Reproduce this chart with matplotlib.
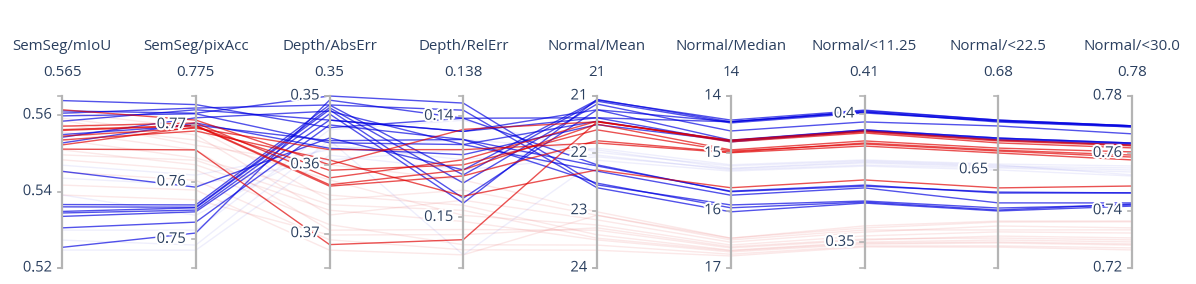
import matplotlib
matplotlib.use("Agg")
import matplotlib.pyplot as plt
import matplotlib.patheffects as pe
import numpy as np

# Axis definitions
dims = ["SemSeg/mIoU", "SemSeg/pixAcc", "Depth/AbsErr", "Depth/RelErr", "Normal/Mean",
        "Normal/Median", "Normal/<11.25", "Normal/<22.5", "Normal/<30.0"]
range_lo = [0.52, 0.745, 0.35, 0.138, 21, 14, 0.34, 0.61, 0.72]
range_hi = [0.565, 0.775, 0.375, 0.155, 24, 17, 0.407, 0.68, 0.78]
reversed_axis = [False, False, True, True, True, True, False, False, False]
top_labels = ["0.565", "0.775", "0.35", "0.138", "21", "14", "0.41", "0.68", "0.78"]
ticks = [
    [0.52, 0.54, 0.56],
    [0.75, 0.76, 0.77],
    [0.35, 0.36, 0.37],
    [0.14, 0.15],
    [21, 22, 23, 24],
    [14, 15, 16, 17],
    [0.35, 0.4],
    [0.65],
    [0.72, 0.74, 0.76, 0.78],
]
tick_labels = [
    ["0.52", "0.54", "0.56"],
    ["0.75", "0.76", "0.77"],
    ["0.35", "0.36", "0.37"],
    ["0.14", "0.15"],
    ["21", "22", "23", "24"],
    ["14", "15", "16", "17"],
    ["0.35", "0.4"],
    ["0.65"],
    ["0.72", "0.74", "0.76", "0.78"],
]

# Runs (16 blue selected, 8 red selected, 12 pink faded, 6 blue faded)
semseg_miou = [0.5638, 0.5611, 0.5605, 0.5584, 0.5549, 0.5542, 0.5527, 0.5453, 0.5366, 0.5360, 0.5348, 0.5344, 0.5335, 0.5305, 0.5254, 0.5598,
               0.5614, 0.5571, 0.5562, 0.5560, 0.5545, 0.5511, 0.5535, 0.5522,
               0.5608, 0.5592, 0.5574, 0.5556, 0.5535, 0.5509, 0.5483, 0.5451, 0.5417, 0.5391, 0.5587, 0.5496,
               0.5469, 0.5435, 0.5299, 0.5273, 0.5247, 0.5391]
semseg_pixacc = [0.7735, 0.7720, 0.7729, 0.7726, 0.7699, 0.7712, 0.7703, 0.7591, 0.7560, 0.7556, 0.7555, 0.7551, 0.7548, 0.7530, 0.7511, 0.7719,
                 0.7708, 0.7703, 0.7699, 0.7698, 0.7694, 0.7656, 0.7689, 0.7696,
                 0.7694, 0.7682, 0.7673, 0.7656, 0.7642, 0.7630, 0.7621, 0.7603, 0.7586, 0.7569, 0.7664, 0.7638,
                 0.7612, 0.7595, 0.7516, 0.7490, 0.7481, 0.7542]
depth_abs = [0.3546, 0.3500, 0.3513, 0.3535, 0.3565, 0.3522, 0.3576, 0.3561, 0.3513, 0.3517, 0.3520, 0.3526, 0.3535, 0.3542, 0.3506, 0.3568,
             0.3600, 0.3619, 0.3629, 0.3631, 0.3578, 0.3716, 0.3593, 0.3608,
             0.3651, 0.3673, 0.3622, 0.3695, 0.3644, 0.3666, 0.3687, 0.3709, 0.3724, 0.3702, 0.3600, 0.3658,
             0.3578, 0.3593, 0.3549, 0.3564, 0.3586, 0.3571]
depth_rel = [0.1402, 0.1387, 0.1394, 0.1415, 0.1423, 0.1428, 0.1438, 0.1453, 0.1458, 0.1466, 0.1481, 0.1486, 0.1415, 0.1423, 0.1402, 0.1428,
             0.1413, 0.1443, 0.1453, 0.1459, 0.1433, 0.1522, 0.1479, 0.1448,
             0.1473, 0.1483, 0.1498, 0.1512, 0.1488, 0.1504, 0.1527, 0.1532, 0.1537, 0.1517, 0.1463, 0.1493,
             0.1423, 0.1433, 0.1404, 0.1537, 0.1453, 0.1443]
normal_mean = [21.38, 22.55, 22.60, 21.24, 22.22, 22.31, 21.50, 21.07, 21.09, 21.14, 21.24, 21.06, 21.38, 22.52, 22.20, 21.44,
               21.45, 21.44, 21.49, 21.78, 21.82, 21.45, 22.29, 21.59,
               23.08, 23.16, 23.25, 23.34, 23.42, 23.51, 23.60, 23.69, 23.08, 23.30, 23.02, 23.48,
               21.94, 22.03, 21.98, 22.12, 22.06, 21.91]
normal_median = [14.45, 15.90, 16.02, 14.45, 15.66, 15.73, 14.78, 14.42, 14.47, 14.61, 14.77, 14.45, 14.80, 15.95, 15.67, 14.78,
                 14.77, 14.80, 14.94, 14.98, 14.99, 14.78, 15.60, 14.96,
                 16.48, 16.55, 16.60, 16.65, 16.69, 16.72, 16.76, 16.79, 16.51, 16.63, 16.48, 16.70,
                 15.26, 15.29, 15.22, 15.31, 15.27, 15.20]
normal_11 = [0.4008, 0.3661, 0.3653, 0.4012, 0.3723, 0.3712, 0.3938, 0.4015, 0.4004, 0.3969, 0.3938, 0.4008, 0.3934, 0.3657, 0.3719, 0.3934,
             0.3934, 0.3926, 0.3895, 0.3887, 0.3875, 0.3930, 0.3743, 0.3883,
             0.3556, 0.3540, 0.3525, 0.3509, 0.3501, 0.3493, 0.3486, 0.3482, 0.3548, 0.3513, 0.3564, 0.3497,
             0.3813, 0.3801, 0.3817, 0.3797, 0.3809, 0.3821]
normal_22 = [0.6698, 0.6344, 0.6332, 0.6702, 0.6405, 0.6365, 0.6629, 0.6702, 0.6698, 0.6678, 0.6629, 0.6694, 0.6621, 0.6336, 0.6409, 0.6625,
             0.6621, 0.6609, 0.6588, 0.6580, 0.6568, 0.6617, 0.6426, 0.6576,
             0.6287, 0.6271, 0.6247, 0.6230, 0.6214, 0.6202, 0.6190, 0.6185, 0.6255, 0.6222, 0.6291, 0.6206,
             0.6515, 0.6507, 0.6519, 0.6499, 0.6511, 0.6523]
normal_30 = [0.7696, 0.7420, 0.7416, 0.7696, 0.7462, 0.7427, 0.7636, 0.7696, 0.7692, 0.7668, 0.7636, 0.7692, 0.7629, 0.7423, 0.7462, 0.7633,
             0.7629, 0.7619, 0.7605, 0.7594, 0.7577, 0.7626, 0.7486, 0.7587,
             0.7361, 0.7340, 0.7322, 0.7305, 0.7291, 0.7280, 0.7270, 0.7263, 0.7333, 0.7298, 0.7364, 0.7284,
             0.7549, 0.7535, 0.7525, 0.7521, 0.7542, 0.7556]
run_color = ["blue"] * 16 + ["red"] * 8 + ["red"] * 12 + ["blue"] * 6
selected = [True] * 24 + [False] * 18

TEXT = "#2a3f5f"
AXIS = "#b4b4b4"

columns = [semseg_miou, semseg_pixacc, depth_abs, depth_rel, normal_mean,
           normal_median, normal_11, normal_22, normal_30]


def norm(i, v):
    f = (np.asarray(v, dtype=float) - range_lo[i]) / (range_hi[i] - range_lo[i])
    return 1 - f if reversed_axis[i] else f


data = np.array([norm(i, col) for i, col in enumerate(columns)]).T
xs = np.arange(len(dims))

fig = plt.figure(figsize=(11.96, 2.84), dpi=100)
ax = fig.add_axes([62 / 1196, 16 / 284, 1070 / 1196, 172 / 284])
ax.set_xlim(0, len(dims) - 1)
ax.set_ylim(0, 1)
ax.axis("off")

# faded lines first, then highlighted ones
for k in range(len(run_color)):
    if selected[k]:
        continue
    c = "#e03030" if run_color[k] == "red" else "#3030e0"
    a = 0.11 if run_color[k] == "red" else 0.08
    ax.plot(xs, data[k], color=c, alpha=a, lw=1.0, clip_on=False, zorder=1)
for k in range(len(run_color)):
    if not selected[k]:
        continue
    c = "#e00000" if run_color[k] == "red" else "#0000e0"
    ax.plot(xs, data[k], color=c, alpha=0.68, lw=1.0, clip_on=False, zorder=2)

halo = [pe.withStroke(linewidth=3, foreground="white")]
cap = 0.03
for i, name in enumerate(dims):
    ax.plot([i, i], [0, 1], color=AXIS, lw=1.6, zorder=3, clip_on=False)
    ax.plot([i - cap, i], [0, 0], color=AXIS, lw=1.2, zorder=3, clip_on=False)
    ax.plot([i - cap, i], [1, 1], color=AXIS, lw=1.2, zorder=3, clip_on=False)
    for t, lab in zip(ticks[i], tick_labels[i]):
        yt = float(norm(i, t))
        ax.plot([i - cap, i], [yt, yt], color=AXIS, lw=1.2, zorder=3, clip_on=False)
        ax.annotate(lab, (i, yt), xytext=(-7, 0), textcoords="offset points",
                    ha="right", va="center", fontsize=10.6, color=TEXT,
                    family="Open Sans", path_effects=halo, zorder=4)
    ax.text(i, 1.285, name, ha="center", va="center", fontsize=10.8,
            color=TEXT, family="Open Sans")
    ax.text(i, 1.134, top_labels[i], ha="center", va="center", fontsize=10.8,
            color=TEXT, family="Open Sans")

fig.savefig("out.png", dpi=100)
